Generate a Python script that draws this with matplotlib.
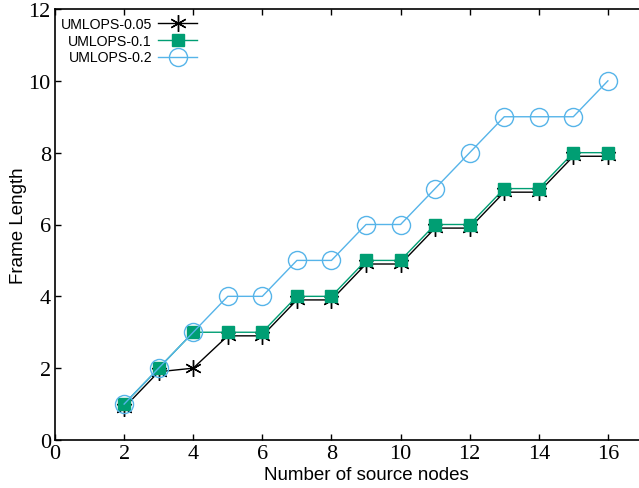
import matplotlib
matplotlib.use("Agg")
import matplotlib.pyplot as plt

plt.rcParams["font.family"] = "Liberation Serif"

x = [2, 3, 4, 5, 6, 7, 8, 9, 10, 11, 12, 13, 14, 15, 16]
umlops_005 = [0.9, 1.9, 2.0, 2.9, 2.9, 3.9, 3.9, 4.9, 4.9, 5.9, 5.9, 6.9, 6.9, 7.9, 7.9]
umlops_01 = [1, 2, 3, 3, 3, 4, 4, 5, 5, 6, 6, 7, 7, 8, 8]
umlops_02 = [1, 2, 3, 4, 4, 5, 5, 6, 6, 7, 8, 9, 9, 9, 10]
labels = ["UMLOPS-0.05", "UMLOPS-0.1", "UMLOPS-0.2"]
xticks = list(range(0, 17, 2))
yticks = list(range(0, 13, 2))

fig = plt.figure(figsize=(6.39, 4.89), dpi=100)
ax = fig.add_axes([55/639, 48/489, (677-55)/639, (441-10)/489])

ax.plot(x, umlops_005, color="black", lw=1, marker=(6, 2, 0), ms=12, mew=1,
        label=labels[0])
ax.plot(x, umlops_01, color="#009E73", lw=1, marker="s", ms=9, mew=1,
        label=labels[1])
ax.plot(x, umlops_02, color="#56B4E9", lw=1, marker="o", ms=13, mfc="none", mew=1,
        label=labels[2])

ax.set_xlim(0, 18)
ax.set_ylim(0, 12)
ax.set_xticks(xticks)
ax.set_yticks(yticks)
ax.tick_params(direction="in", top=True, right=False, length=4, width=1,
               labelsize=16, pad=3)
for s in ax.spines.values():
    s.set_linewidth(1.2)

ax.set_xlabel("Number of source nodes", fontsize=13.5, family="Liberation Sans", labelpad=2)
ax.set_ylabel("Frame Length", fontsize=13.5, family="Liberation Sans")
ax.yaxis.set_label_coords(-0.045, 0.5)

leg = ax.legend(loc="upper left", frameon=False, markerfirst=False,
                alignment="right",
                prop={"family": "Liberation Sans", "size": 10.2},
                handlelength=2.8, handletextpad=0.4, labelspacing=0.2,
                borderaxespad=0.0, bbox_to_anchor=(0.0, 0.995))

fig.savefig("out.png", dpi=100)
